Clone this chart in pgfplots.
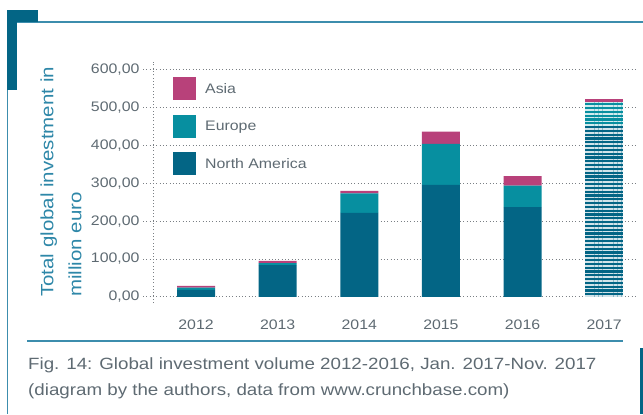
\documentclass[border=0pt]{standalone}
\usepackage{fontspec}
\setmainfont{Liberation Sans}[FakeStretch=1.15]
\usepackage{pgfplots}
\pgfplotsset{compat=1.18}
\usetikzlibrary{patterns.meta}
\definecolor{na}{HTML}{036585}
\definecolor{eu}{HTML}{078FA0}
\definecolor{asia}{HTML}{B8417A}
\definecolor{txt}{HTML}{5E6A72}
\definecolor{lab}{HTML}{2E87A8}
\definecolor{framec}{HTML}{3C8DAD}
\definecolor{gridc}{HTML}{7A7F84}
\begin{document}
\begin{tikzpicture}[x=1bp,y=1bp]
\path[use as bounding box] (0,0) rectangle (643,414);
% frame decoration
\draw[framec, line width=1.3bp] (17,392) -- (643,392);
\draw[framec, line width=1.2bp] (7.6,392) -- (7.6,0);
\fill[na] (7,404) rectangle (17,324);
\fill[na] (7,404) rectangle (38,392);
\draw[framec, line width=1.2bp] (27,73) -- (623,73);
\fill[na] (640,0) rectangle (643,66);
\node[anchor=base west, inner sep=0pt, text=txt, font=\fontsize{16.3bp}{19bp}\selectfont] at (28,45) {Fig. 14: Global investment volume 2012-2016, Jan. 2017-Nov. 2017};
\node[anchor=base west, inner sep=0pt, text=txt, font=\fontsize{16.3bp}{19bp}\selectfont] at (28,19) {(diagram by the authors, data from www.crunchbase.com)};
\node[rotate=90, anchor=west, align=left, inner sep=0pt, text=lab, font=\fontsize{17.8bp}{28bp}\selectfont] at (61,117) {Total global investment in\\million euro};
\begin{axis}[
  at={(153bp,111bp)}, anchor=south west,
  scale only axis, width=483bp, height=241bp,
  xmin=-0.527, xmax=5.39, ymin=-16, ymax=620,
  ybar stacked, bar width=38bp,
  axis lines*=left,
  x axis line style={draw=none},
  y axis line style={gridc, line width=0.9bp, dash pattern=on 1bp off 2.3bp},
  xtick={0,1,2,3,4,5},
  xticklabels={2012,2013,2014,2015,2016,2017},
  xtick style={draw=none},
  ytick={0,100,200,300,400,500,600},
  ytick style={gridc, line width=0.9bp, dash pattern=on 1bp off 2.3bp},
  tick align=outside, major tick length=10bp,
  ymajorgrids,
  grid style={gridc, line width=0.9bp, dash pattern=on 1bp off 2.3bp},
  /pgf/number format/assume math mode=true,
  yticklabel={\pgfmathprintnumber[fixed,fixed zerofill,precision=2,use comma,1000 sep={}]{\tick}},
  ticklabel style={text=txt, font=\fontsize{13.8bp}{16bp}\selectfont},
  xticklabel style={yshift=-3bp},
  legend style={at={(axis cs:-0.282,580)}, anchor=north west, draw=none, fill=none,
    inner sep=0pt, row sep=14.5bp, column sep=9bp,
    nodes={inner sep=0pt, anchor=west, text=txt},
    font=\fontsize{13.8bp}{16bp}\selectfont},
  legend cell align=left,
  reverse legend,
  legend image code/.code={\fill[#1] (0bp,-11.5bp) rectangle (23bp,11.5bp);},
]
\addplot[fill=na, draw=none] coordinates {(0,18.5) (1,84) (2,222) (3,296) (4,237) (5,0)};
\addplot[fill=eu, draw=none] coordinates {(0,6) (1,5.5) (2,51) (3,108) (4,57) (5,0)};
\addplot[fill=asia, draw=none] coordinates {(0,5) (1,5.5) (2,7) (3,32) (4,25) (5,0)};
\addplot[fill=na, draw=none, forget plot, postaction={pattern={Lines[angle=0,distance=3.8bp,line width=1.7bp]}, pattern color=white!82!na}] coordinates {(0,0) (1,0) (2,0) (3,0) (4,0) (5,451)};
\addplot[fill=eu, draw=none, forget plot, postaction={pattern={Lines[angle=0,distance=3.8bp,line width=1.7bp]}, pattern color=white!82!eu}] coordinates {(0,0) (1,0) (2,0) (3,0) (4,0) (5,64)};
\addplot[fill=asia, draw=none, forget plot] coordinates {(0,0) (1,0) (2,0) (3,0) (4,0) (5,7)};
\legend{North America,Europe,Asia}
\end{axis}
\end{tikzpicture}
\end{document}
